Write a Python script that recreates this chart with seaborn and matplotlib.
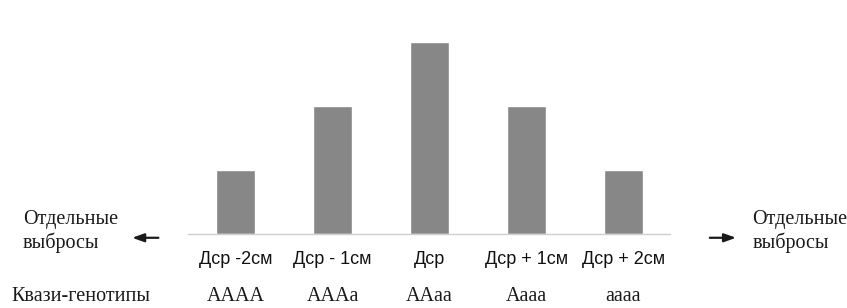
import matplotlib
matplotlib.use("Agg")
import matplotlib.pyplot as plt
import matplotlib.transforms as mtransforms
import seaborn as sns
import pandas as pd

# data
categories = ["Дср -2см", "Дср - 1см", "Дср", "Дср + 1см", "Дср + 2см"]
values = [1, 2, 3, 2, 1]
genotypes = ["AAAA", "AAAa", "AAaa", "Aaaa", "aaaa"]
row_label = "Квази-генотипы"
side_label = "Отдельные\nвыбросы"

sns.set_style("white")
plt.rcParams["font.family"] = ["Liberation Sans", "DejaVu Sans"]

df = pd.DataFrame({"cat": categories, "val": values})

fig = plt.figure(figsize=(8.47, 3.08), dpi=100)
ax = fig.add_axes([0.222, 0.240, 0.569, 0.624])

sns.barplot(data=df, x="cat", y="val", color="#878787", width=0.4,
            saturation=1, ax=ax)

ax.set_xlim(-0.49, 4.48)
ax.set_ylim(0, 3)
ax.set_xlabel("")
ax.set_ylabel("")
ax.set_yticks([])
ax.tick_params(axis="x", length=0, pad=12, labelsize=13, colors="#111111")
for side in ["top", "right", "left"]:
    ax.spines[side].set_visible(False)
ax.spines["bottom"].set_color("#cfcfcf")
ax.spines["bottom"].set_linewidth(1.0)
ax.spines["bottom"].set_linestyle((0, (2, 1)))

serif = ["Liberation Serif", "DejaVu Serif"]
ink = "#1a1a1a"

# genotype row under the tick labels
row_trans = mtransforms.blended_transform_factory(ax.transData, fig.transFigure)
for i, g in enumerate(genotypes):
    ax.text(i, 0.023, g, transform=row_trans, ha="center", va="baseline",
            fontsize=14.5, family=serif, color=ink)
fig.text(0.014, 0.023, row_label, ha="left", va="baseline",
         fontsize=14.5, family=serif, color=ink)

# side labels with arrows
for xpos in [0.027, 0.888]:
    fig.text(xpos, 0.195, side_label, ha="left", va="baseline",
             fontsize=14.5, family=serif, color=ink, linespacing=1.2)

arrow = dict(arrowstyle="-|>,head_length=0.7,head_width=0.25", color=ink, lw=1.6,
             shrinkA=0, shrinkB=0)
fig.add_artist(plt.Annotation("", xy=(0.156, 0.228), xytext=(0.187, 0.228),
                              xycoords="figure fraction", arrowprops=arrow))
fig.add_artist(plt.Annotation("", xy=(0.869, 0.228), xytext=(0.838, 0.228),
                              xycoords="figure fraction", arrowprops=arrow))

fig.savefig("out.png", dpi=100, facecolor="white")
